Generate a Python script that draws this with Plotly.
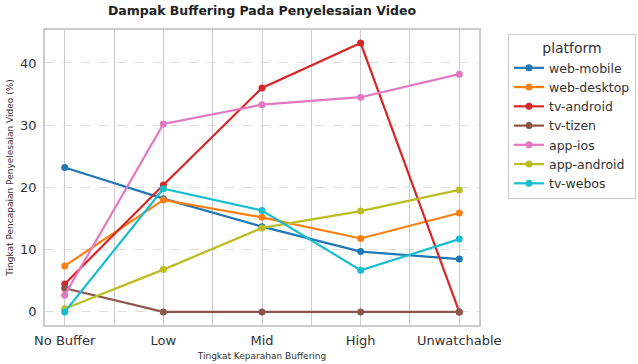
import plotly.graph_objects as go

categories = ["No Buffer", "Low", "Mid", "High", "Unwatchable"]
platforms = ["web-mobile", "web-desktop", "tv-android", "tv-tizen", "app-ios", "app-android", "tv-webos"]
web_mobile = [23.2, 18.2, 13.7, 9.7, 8.5]
web_desktop = [7.4, 18.0, 15.2, 11.8, 15.9]
tv_android = [4.5, 20.4, 36.0, 43.2, 0.0]
tv_tizen = [3.8, 0.0, 0.0, 0.0, 0.0]
app_ios = [2.7, 30.2, 33.3, 34.5, 38.2]
app_android = [0.5, 6.8, 13.5, 16.2, 19.6]
tv_webos = [0.0, 19.8, 16.3, 6.7, 11.7]
series = [web_mobile, web_desktop, tv_android, tv_tizen, app_ios, app_android, tv_webos]
colors = ["#1f77b4", "#ff7f0e", "#d62728", "#8c564b", "#e377c2", "#bcbd22", "#17becf"]

fig = go.Figure()
xi = list(range(len(categories)))
for name, vals, c in zip(platforms, series, colors):
    fig.add_trace(go.Scatter(x=xi, y=vals, name=name, mode="lines+markers",
                             line=dict(color=c, width=2.2),
                             marker=dict(color=c, size=7)))

fig.update_layout(
    width=638, height=364,
    margin=dict(l=45, r=159, t=30, b=39, autoexpand=False),
    paper_bgcolor="white", plot_bgcolor="white",
    font=dict(family="DejaVu Sans", color="#333333"),
    title=dict(text="<b>Dampak Buffering Pada Penyelesaian Video</b>",
               x=262/638, xanchor="center", y=1 - 11/364, yanchor="middle",
               font=dict(size=12.5, color="#222222")),
    legend=dict(title=dict(text="platform", side="top center", font=dict(size=14)),
                x=(508-45)/434, xanchor="left", y=1 - 4/295, yanchor="top",
                bordercolor="#cccccc", borderwidth=1, bgcolor="white",
                font=dict(size=12.5), itemwidth=30, tracegroupgap=0),
    xaxis=dict(range=[-0.2, 4.2], tickmode="array", tickvals=xi, ticktext=categories,
               showgrid=True, gridcolor="#cccccc", gridwidth=1,
               minor=dict(tickmode="array", tickvals=[0.5, 1.5, 2.5, 3.5], showgrid=True,
                          gridcolor="#cccccc", gridwidth=1),
               showline=True, linecolor="#cccccc", linewidth=1.5, mirror=True,
               zeroline=False, ticks="", tickfont=dict(size=13), ticklabelstandoff=3,
               title=dict(text="Tingkat Keparahan Buffering", font=dict(size=9), standoff=5)),
    yaxis=dict(range=[-2.1, 45.3], tickvals=[0, 10, 20, 30, 40],
               showgrid=True, gridcolor="#dddddd", griddash="dash", gridwidth=1,
               showline=True, linecolor="#cccccc", linewidth=1.5, mirror=True,
               zeroline=False, ticks="", tickfont=dict(size=13), ticklabelstandoff=4,
               title=dict(text="Tingkat Pencapaian Penyelesaian Video (%)", font=dict(size=9), standoff=5)),
)
fig.write_html("out.html", config={"displayModeBar": False},
               post_script="document.body.style.margin='0';")
